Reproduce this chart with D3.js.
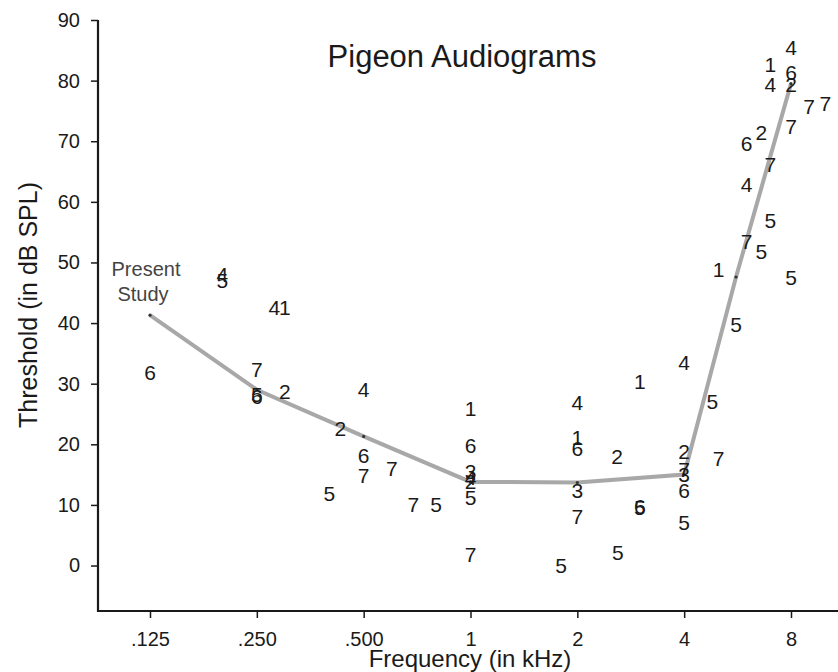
<!DOCTYPE html>
<html>
<head>
<meta charset="utf-8">
<script src="https://cdn.jsdelivr.net/npm/d3@7"></script>
<style>
	body { margin: 0; background: #fff; }
	svg text { font-family: 'Liberation Sans', Arial, sans-serif; fill: #1a1a1a; }
</style>
</head>
<body>
<svg id="chart"></svg>
<script>
/* global d3 */

// Tick values / labels
const freqTicks = [ 0.125, 0.25, 0.5, 1, 2, 4, 8 ];
const freqTickLabels = [ '.125', '.250', '.500', '1', '2', '4', '8' ];
const dbTicks = [ 0, 10, 20, 30, 40, 50, 60, 70, 80, 90 ];

// Present study audiogram [ kHz, dB SPL ]
const presentStudy = [
	[ 0.125, 41.3 ], [ 0.25, 29 ], [ 0.5, 21.3 ], [ 1, 13.8 ],
	[ 2, 13.7 ], [ 4, 15.0 ], [ 5.6, 47.6 ], [ 8, 79.5 ],
];

// Earlier studies, numbered 1..7 [ kHz, dB SPL ]
const study1 = [ [ 0.3, 42.5 ], [ 1, 25.9 ], [ 2, 21.1 ], [ 3, 30.3 ], [ 5.0, 48.8 ], [ 7.0, 82.6 ] ];
const study2 = [ [ 0.3, 28.7 ], [ 0.43, 22.7 ], [ 1, 13.8 ], [ 2.59, 18.0 ], [ 4, 18.8 ], [ 6.6, 71.4 ], [ 8, 79.3 ] ];
const study3 = [ [ 1, 15.6 ], [ 2, 12.4 ], [ 4, 15.0 ] ];
const study4 = [ [ 0.2, 48.0 ], [ 0.28, 42.5 ], [ 0.5, 29.0 ], [ 1, 14.6 ], [ 2, 26.9 ], [ 4, 33.5 ], [ 6.0, 62.8 ], [ 7.0, 79.3 ], [ 8, 85.5 ] ];
const study5 = [ [ 0.2, 47.1 ], [ 0.25, 28.2 ], [ 0.4, 11.9 ], [ 0.8, 10.1 ], [ 1, 11.2 ], [ 1.8, 0 ], [ 2.6, 2.1 ], [ 3, 9.6 ], [ 4, 7.1 ], [ 4.8, 27.0 ], [ 5.6, 39.7 ], [ 6.6, 51.8 ], [ 7.0, 56.9 ], [ 8, 47.6 ] ];
const study6 = [ [ 0.125, 31.8 ], [ 0.25, 27.9 ], [ 0.5, 18.1 ], [ 1, 19.8 ], [ 2, 19.3 ], [ 3, 9.8 ], [ 4, 12.4 ], [ 6.0, 69.7 ], [ 8, 81.3 ] ];
const study7 = [ [ 0.25, 32.3 ], [ 0.5, 14.8 ], [ 0.6, 16.0 ], [ 0.69, 10.1 ], [ 1, 1.8 ], [ 2, 8.1 ], [ 4, 15.8 ], [ 5.0, 17.6 ], [ 6.0, 53.4 ], [ 7.0, 66.1 ], [ 8, 72.4 ], [ 9.0, 75.8 ], [ 10.0, 76.3 ] ];

const studies = [ study1, study2, study3, study4, study5, study6, study7 ];

const config = {
	width: 838,
	height: 672,
	left: 98,
	right: 838,
	top: 20,
	bottom: 611,
};

const svg = d3.select( '#chart' )
	.attr( 'width', config.width )
	.attr( 'height', config.height );

svg.append( 'rect' )
	.attr( 'width', config.width )
	.attr( 'height', config.height )
	.attr( 'fill', '#fff' );

const x = d3.scaleLog()
	.base( 2 )
	.domain( [ 0.125, 8 ] )
	.range( [ 150, 791 ] );

const y = d3.scaleLinear()
	.domain( [ -7.5, 90 ] )
	.range( [ config.bottom, config.top ] );

// axes
const xAxis = svg.append( 'g' )
	.attr( 'transform', `translate(0,${ config.bottom })` )
	.call( d3.axisBottom( x )
		.tickValues( freqTicks )
		.tickFormat( ( d, i ) => freqTickLabels[ i ] )
		.tickSize( 7 )
		.tickPadding( 14 ) );
xAxis.select( '.domain' ).remove();
xAxis.selectAll( 'line' ).attr( 'stroke', '#1a1a1a' ).attr( 'stroke-width', 1.5 );
xAxis.selectAll( 'text' ).attr( 'font-size', 20 );

const yAxis = svg.append( 'g' )
	.attr( 'transform', `translate(${ config.left },0)` )
	.call( d3.axisLeft( y )
		.tickValues( dbTicks )
		.tickSize( 7 )
		.tickPadding( 11 ) );
yAxis.select( '.domain' ).remove();
yAxis.selectAll( 'line' ).attr( 'stroke', '#1a1a1a' ).attr( 'stroke-width', 1.5 );
yAxis.selectAll( 'text' ).attr( 'font-size', 20 );

svg.append( 'line' )
	.attr( 'x1', config.left ).attr( 'x2', config.right )
	.attr( 'y1', config.bottom ).attr( 'y2', config.bottom )
	.attr( 'stroke', '#1a1a1a' ).attr( 'stroke-width', 2.2 );

svg.append( 'line' )
	.attr( 'x1', config.left ).attr( 'x2', config.left )
	.attr( 'y1', y( 90 ) ).attr( 'y2', config.bottom + 1 )
	.attr( 'stroke', '#1a1a1a' ).attr( 'stroke-width', 2.2 );

// present study line
const line = d3.line()
	.x( ( d ) => x( d[ 0 ] ) )
	.y( ( d ) => y( d[ 1 ] ) );

svg.append( 'path' )
	.datum( presentStudy )
	.attr( 'd', line )
	.attr( 'fill', 'none' )
	.attr( 'stroke', '#a8a8a8' )
	.attr( 'stroke-width', 4 );

svg.selectAll( 'circle.present' )
	.data( presentStudy )
	.enter()
	.append( 'circle' )
	.attr( 'class', 'present' )
	.attr( 'cx', ( d ) => x( d[ 0 ] ) )
	.attr( 'cy', ( d ) => y( d[ 1 ] ) )
	.attr( 'r', 1.6 )
	.attr( 'fill', '#333' );

const label = svg.append( 'text' )
	.attr( 'text-anchor', 'middle' )
	.attr( 'font-size', 20 )
	.style( 'fill', '#444' );
label.append( 'tspan' ).attr( 'x', 146 ).attr( 'y', 276 ).text( 'Present' );
label.append( 'tspan' ).attr( 'x', 143 ).attr( 'y', 301 ).text( 'Study' );

// numbered points from the other studies
studies.forEach( ( pts, i ) => {
	svg.append( 'g' )
		.selectAll( 'text' )
		.data( pts )
		.enter()
		.append( 'text' )
		.attr( 'x', ( d ) => x( d[ 0 ] ) )
		.attr( 'y', ( d ) => y( d[ 1 ] ) )
		.attr( 'dy', '0.36em' )
		.attr( 'text-anchor', 'middle' )
		.attr( 'font-size', 21 )
		.text( i + 1 );
} );

// titles
svg.append( 'text' )
	.attr( 'x', 462 )
	.attr( 'y', 67 )
	.attr( 'text-anchor', 'middle' )
	.attr( 'font-size', 31 )
	.text( 'Pigeon Audiograms' );

svg.append( 'text' )
	.attr( 'x', 470 )
	.attr( 'y', 667 )
	.attr( 'text-anchor', 'middle' )
	.attr( 'font-size', 24 )
	.text( 'Frequency (in kHz)' );

svg.append( 'text' )
	.attr( 'transform', 'translate(37,305) rotate(-90)' )
	.attr( 'text-anchor', 'middle' )
	.attr( 'font-size', 25 )
	.text( 'Threshold (in dB SPL)' );
</script>
</body>
</html>
